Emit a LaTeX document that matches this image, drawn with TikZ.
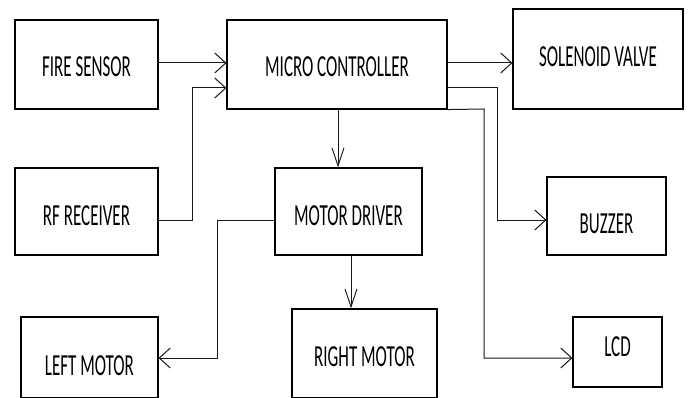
\documentclass[tikz,border=0pt]{standalone}
\usepackage{fontspec}
\setmainfont{Carlito}
\usetikzlibrary{arrows.meta}
\tikzset{
  box/.style={draw=black, line width=1.1pt, rectangle, inner sep=0pt},
  txt/.style={font=\fontsize{17}{17}\selectfont, text=black, inner sep=0pt},
  conn/.style={draw=black!90, line width=1pt},
  harr/.style={-{Straight Barb[length=11pt,width=20pt,line width=1pt]}},
  varr/.style={-{Straight Barb[length=18pt,width=12pt,line width=1pt]}},
}
\newcommand{\st}[1]{\scalebox{1}[1.8]{#1}}
\begin{document}
\begin{tikzpicture}[x=1pt,y=-1pt]
\useasboundingbox (0,0) rectangle (690,398);
\fill[white] (0,0) rectangle (690,398);
\node[box, minimum width=143pt, minimum height=89pt, label={[txt,yshift=-2pt]center:\st{FIRE SENSOR}}] (fs) at (86.5,64.5) {};
\node[box, minimum width=220pt, minimum height=89pt, label={[txt,yshift=-2pt]center:\st{MICRO CONTROLLER}}] (mc) at (337,64.5) {};
\node[box, minimum width=170pt, minimum height=100pt, label={[txt,yshift=2pt]center:\st{SOLENOID VALVE}}] (sv) at (598,59) {};
\node[box, minimum width=143pt, minimum height=87pt, label={[txt,yshift=-4pt]center:\st{RF RECEIVER}}] (rf) at (86.5,211.5) {};
\node[box, minimum width=147pt, minimum height=87pt, label={[txt,yshift=-4pt]center:\st{MOTOR DRIVER}}] (md) at (348.5,211.5) {};
\node[box, minimum width=119pt, minimum height=78pt, label={[txt,yshift=-8pt]center:\st{BUZZER}}] (bz) at (606.5,216) {};
\node[box, minimum width=137pt, minimum height=81pt, label={[txt,yshift=-8pt]center:\st{LEFT MOTOR}}] (lm) at (89.5,357.5) {};
\node[box, minimum width=145pt, minimum height=89pt, label={[txt,yshift=-3pt]center:\st{RIGHT MOTOR}}] (rm) at (364.5,353.5) {};
\node[box, minimum width=89pt, minimum height=70pt, label={[txt,yshift=5pt]center:\st{LCD}}] (lcd) at (617.5,352) {};

\coordinate (a1) at (192,220);
\coordinate (a2) at (192,88);
\coordinate (b1) at (497,88);
\coordinate (b2) at (497,220);
\coordinate (c1) at (484,109);
\coordinate (c2) at (484,358);
\coordinate (d1) at (217,220);
\coordinate (d2) at (217,358);

\draw[conn,harr] (fs.east |- 0,63) -- (mc.west |- 0,63);
\draw[conn,harr] (rf.east |- a1) -- (a1) -- (a2) -- (mc.west |- a2);
\draw[conn,harr] (mc.east |- 0,63) -- (sv.west |- 0,63);
\draw[conn,harr] (mc.east |- b1) -- (b1) -- (b2) -- (bz.west |- b2);
\draw[conn,harr] (mc.south east) -- (c1) -- (c2) -- (lcd.west |- c2);
\draw[conn,varr] (mc.south -| 338,0) -- (md.north -| 338,0);
\draw[conn,harr] (md.west |- d1) -- (d1) -- (d2) -- (lm.east |- d2);
\draw[conn,varr] (md.south -| 351,0) -- (rm.north -| 351,0);
\end{tikzpicture}
\end{document}
